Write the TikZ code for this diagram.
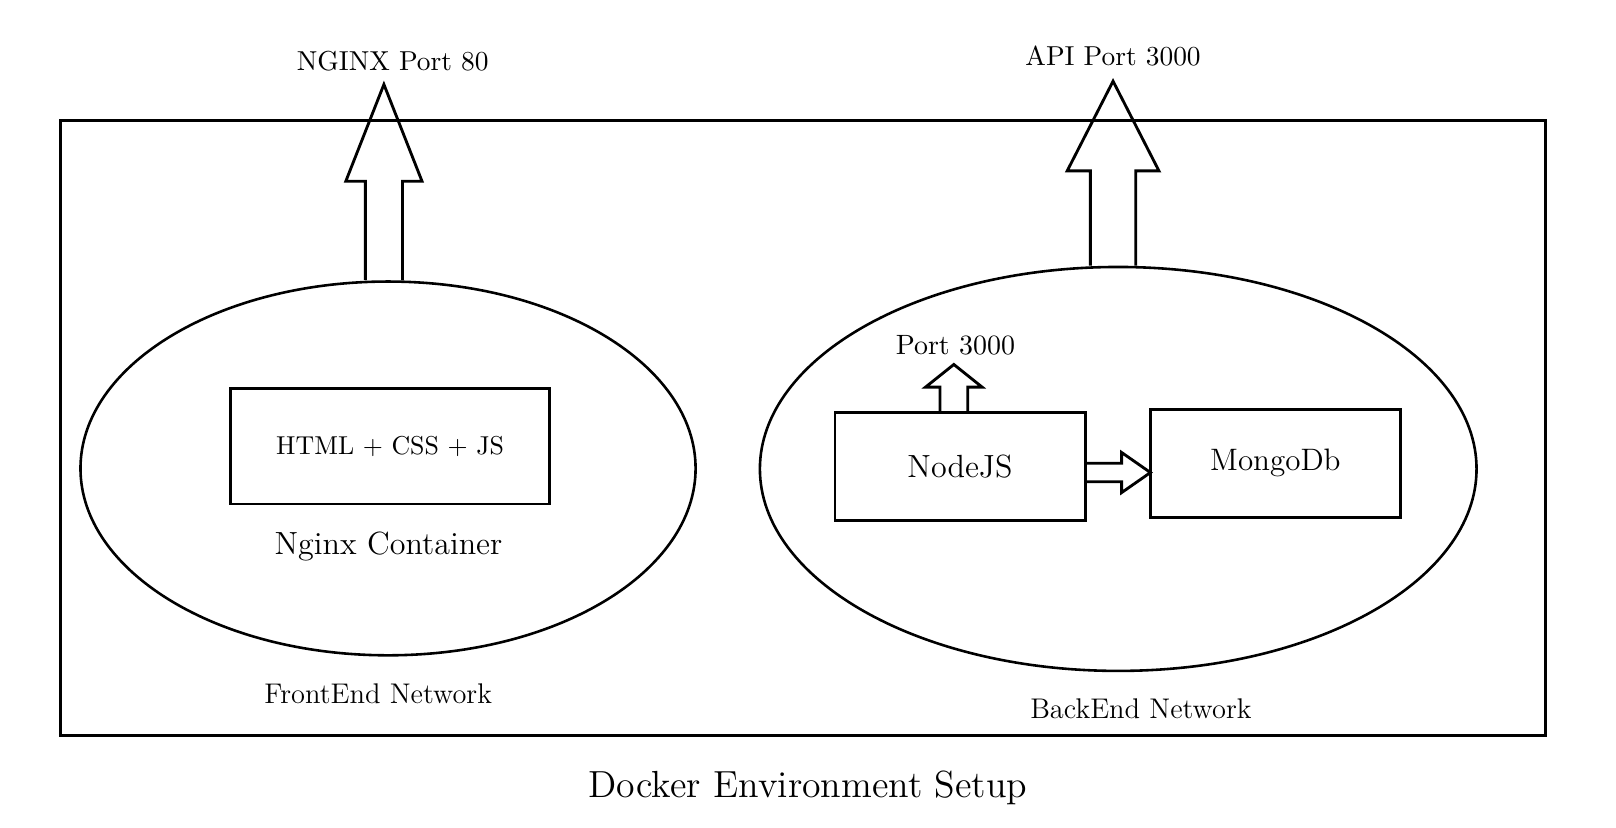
\documentclass[tikz,border=0pt]{standalone}
\usetikzlibrary{shapes.geometric}
\begin{document}
\begin{tikzpicture}[
                            x=0.014cm, y=0.014cm,
                            every node/.style={font=\normalsize},
                            box/.style={draw, rectangle, line width=1.1pt},
                            net/.style={draw, ellipse, line width=1pt},
                            netlabel/.style={font=\fontsize{11}{13}\selectfont},
                            portlabel/.style={font=\fontsize{10.6}{13}\selectfont},
                            blockarrow/.style={draw, line width=1.1pt, line join=miter}
                            ]
                            \useasboundingbox (0,0) rectangle (1568,803);

                            \node [draw, rectangle, line width=1.1pt, minimum width=20.19cm, minimum height=8.36cm] (docker) at (779,387.5) {};

                            % networks
                            \node [net, minimum width=8.36cm, minimum height=5.08cm] (front) at (376.5,348.5) {};
                            \node [net, minimum width=9.74cm, minimum height=5.49cm] (back) at (1085,348) {};

                            % containers
                            \node [box, minimum width=4.33cm, minimum height=1.57cm] (static) at (378.5,370) {HTML + CSS + JS};
                            \node [box, minimum width=3.40cm, minimum height=1.47cm, font=\fontsize{12.4}{15}\selectfont] (nodejs) at (931.5,350.5) {NodeJS};
                            \node [box, minimum width=3.40cm, minimum height=1.47cm, font=\large] (mongo) at (1237.5,353.5) {MongoDb};

                            \node [font=\fontsize{12.4}{15}\selectfont] (nginxlbl) at (377,273) {Nginx Container};
                            \node [netlabel] (frontlbl) at (367,130) {FrontEnd Network};
                            \node [netlabel] (backlbl) at (1107,115) {BackEnd Network};
                            \node [portlabel] (nginxport) at (381,744) {NGINX Port 80};
                            \node [portlabel] (apiport) at (1080,749) {API Port 3000};
                            \node [portlabel, font=\fontsize{10.8}{13}\selectfont] (nodeport) at (927,468) {Port 3000};
                            \node [font=\fontsize{14.6}{17}\selectfont] (title) at (784,39) {Docker Environment Setup};

                            % block arrows
                            \draw[blockarrow] (front.north) ++(-22,0) -- ++(0,96) -- ++(-19,0) -- ++(37,94) -- ++(37,-94) -- ++(-19,0) -- ++(0,-96);
                            \draw[blockarrow] (back.north) ++(-27,0) -- ++(0,92) -- ++(-22.5,0) -- ++(44.5,87) -- ++(44.5,-87) -- ++(-22.5,0) -- ++(0,-92);
                            \draw[blockarrow] (nodejs.north) ++(-19.5,0) -- ++(0,23) -- ++(-14,0) -- ++(27.5,22) -- ++(27.5,-22) -- ++(-14,0) -- ++(0,-23);
                            \draw[blockarrow] (nodejs.east) ++(0,3) -- ++(34,0) -- ++(0,10.5) -- ++(28,-19.5) -- ++(-28,-19.5) -- ++(0,10.5) -- ++(-34,0);
                        \end{tikzpicture}
\end{document}
